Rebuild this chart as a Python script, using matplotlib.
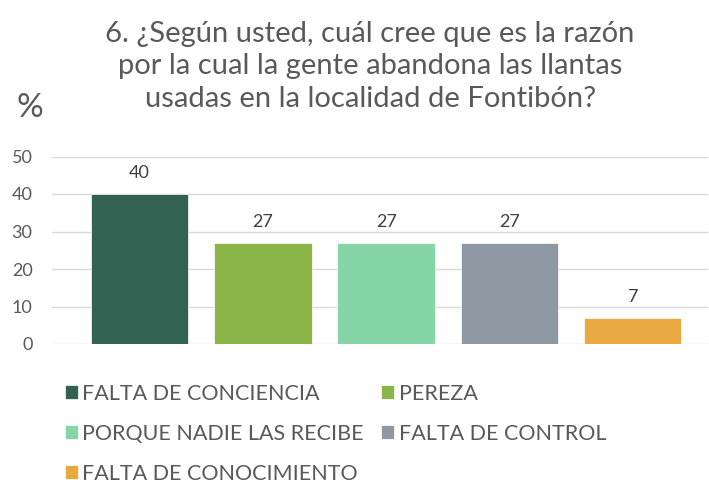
import matplotlib.pyplot as plt

categorias = ["FALTA DE CONCIENCIA", "PEREZA", "PORQUE NADIE LAS RECIBE",
              "FALTA DE CONTROL", "FALTA DE CONOCIMIENTO"]
valores = [40, 27, 27, 27, 7]
colores = ["#346252", "#8BB449", "#86D5A7", "#8D98A3", "#E8A942"]
yticks = [0, 10, 20, 30, 40, 50]

titulo = ("6. ¿Según usted, cuál cree que es la razón\n"
          "por la cual la gente abandona las llantas\n"
          "usadas en la localidad de Fontibón?")

plt.rcParams['font.family'] = ['Lato', 'DejaVu Sans']

fig = plt.figure(figsize=(7.09, 4.83), dpi=100)
ax = fig.add_axes([52/709, 139/483, 656/709, 187.5/483])

x = range(len(valores))
barras = ax.bar(x, valores, width=0.79, color=colores, edgecolor="white", linewidth=0.5,
                zorder=3, label=categorias)
ax.bar_label(barras, padding=9, fontsize=13, color="#404040")

ax.set_xlim(-0.71, 4.61)
ax.set_ylim(0, 50)
ax.set_yticks(yticks)
ax.set_xticks([])
ax.tick_params(axis="y", length=0, labelsize=13, labelcolor="#595959", pad=14)
ax.grid(axis="y", color="#D9D9D9", linewidth=1, zorder=0)
for s in ax.spines.values():
    s.set_visible(False)

# titulo y unidad
fig.text(0.522, 1 - 21/483, titulo, ha="center", va="top", fontsize=21,
         color="#595959", linespacing=1.3)
fig.text(30/709, 1 - 108/483, "%", ha="center", va="center", fontsize=24,
         color="#595959")

# leyenda por filas: reordenar para ncol=2
orden = [0, 2, 4, 1, 3]
handles = [barras[i] for i in orden]
labels = [categorias[i] for i in orden]
fig.legend(handles, labels, ncol=2, loc="upper left", bbox_to_anchor=(56/709, 1 - 375/483),
           frameon=False, fontsize=15.5, labelcolor="#595959", handlelength=0.6,
           handleheight=0.6, handletextpad=0.23, columnspacing=0.8, labelspacing=0.93,
           borderaxespad=0)

fig.savefig("out.png", dpi=100)
